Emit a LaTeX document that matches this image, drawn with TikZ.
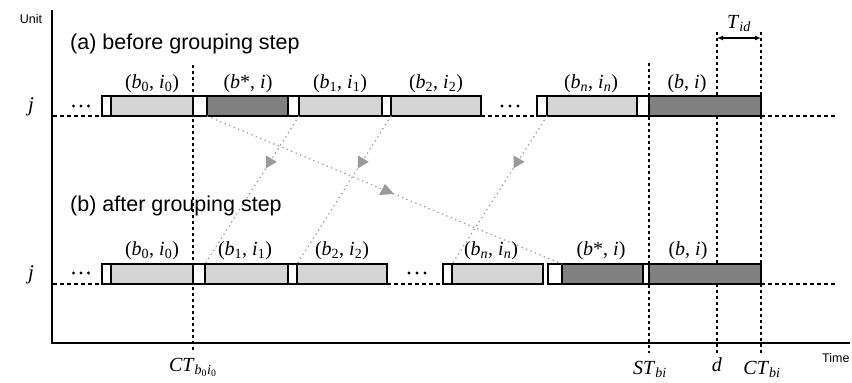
\documentclass[tikz,border=0pt]{standalone}
\usepackage{fontspec}
\setmainfont{Liberation Serif}
\newfontfamily\arialf{Liberation Sans}
\usetikzlibrary{arrows.meta}
\definecolor{lightg}{HTML}{D4D4D4}
\definecolor{darkg}{HTML}{808080}
\definecolor{connc}{HTML}{9A9A9A}
\newcommand\bx[5]{\node[#5,minimum width={(#3-#2)*1pt}] (#1) at (#2,#4) {};}
\newcommand\pr[4]{(\textit{#1}\textsubscript{#2}, \textit{#3}\textsubscript{#4})}
\begin{document}
\begin{tikzpicture}[x=1pt,y=-1pt,
  blk/.style={draw=black,line width=1.3pt,inner sep=0pt,outer sep=0pt,minimum height=20pt,anchor=north west},
  wb/.style={blk,fill=white},
  lb/.style={blk,fill=lightg},
  db/.style={blk,fill=darkg},
  lbl/.style={font=\fontsize{20}{22}\selectfont,anchor=base,inner sep=0pt},
  sanslbl/.style={font=\arialf\fontsize{21.5}{24}\selectfont,anchor=base west,inner sep=0pt},
  axlbl/.style={font=\arialf\fontsize{12.5}{14}\selectfont,anchor=base,inner sep=0pt},
  baseln/.style={line width=1.2pt,dash pattern=on 4pt off 3pt},
  vdot/.style={line width=1.6pt,dash pattern=on 3pt off 3pt},
  axis/.style={line width=1.5pt},
  conn/.style={connc,line width=1.2pt,dash pattern=on 1.3pt off 3.5pt},
  tri/.style={fill=connc,draw=none},
  dotc/.style={fill=black,draw=none}
]
\useasboundingbox (0,0) rectangle (852,383);

% axes
\coordinate (o) at (52,343);
\coordinate (ytop) at (52,10);
\coordinate (xend) at (850,343);
\draw[axis] (ytop) -- (o) -- (xend);
\node[axlbl] (unit) at (31,23) {Unit};
\node[axlbl,anchor=base west] (time) at (822,362) {Time};

% vertical dotted time marks
\coordinate (v1t) at (193,65);  \coordinate (v1b) at (193,353);
\coordinate (v2t) at (649,63);  \coordinate (v2b) at (649,353);
\coordinate (v3t) at (717,32);  \coordinate (v3b) at (717,353);
\coordinate (v4t) at (761,32);  \coordinate (v4b) at (761,353);
\draw[vdot] (v1t) -- (v1b);
\draw[vdot] (v2t) -- (v2b);
\draw[vdot] (v3t) -- (v3b);
\draw[vdot] (v4t) -- (v4b);

% T_id arrow
\coordinate (ta) at (717,38);
\coordinate (tb) at (761,38);
\draw[line width=1.6pt,{Latex[length=6pt,width=5pt]}-{Latex[length=6pt,width=5pt]}] (ta) -- (tb);
\node[lbl] (tid) at (739,28) {\textit{T}\textsubscript{\textit{id}}};

% bottom labels
\node[lbl] (ct0) at (193,371) {\textit{CT}\textsubscript{\textit{b}\textsubscript{0}\textit{i}\textsubscript{0}}};
\node[lbl] (st) at (650,374) {\textit{ST}\textsubscript{\textit{bi}}};
\node[lbl] (dl) at (717,371) {\textit{d}};
\node[lbl] (ctb) at (762,374) {\textit{CT}\textsubscript{\textit{bi}}};

% section titles
\node[sanslbl] (ta1) at (70,49) {(a) before grouping step};
\node[sanslbl] (tb1) at (70,211) {(b) after grouping step};

% j labels
\node[lbl,font=\fontsize{21}{24}\selectfont] (j1) at (31,111) {\textit{j}};
\node[lbl,font=\fontsize{21}{24}\selectfont] (j2) at (31,279) {\textit{j}};

% baselines (dashed)
\coordinate (a0) at (53,116);  \coordinate (a1) at (102,116);
\coordinate (a2) at (481,116); \coordinate (a3) at (537,116);
\coordinate (a4) at (761,116); \coordinate (a5) at (837,116);
\draw[baseln] (a0) -- (a1);
\draw[baseln] (a2) -- (a3);
\draw[baseln] (a4) -- (a5);
\coordinate (c0) at (53,284);  \coordinate (c1) at (102,284);
\coordinate (c2) at (387,284); \coordinate (c3) at (443,284);
\coordinate (c4) at (761,284); \coordinate (c5) at (837,284);
\draw[baseln] (c0) -- (c1);
\draw[baseln] (c2) -- (c3);
\draw[baseln] (c4) -- (c5);

% dots
\foreach \x in {73.5,81,88.5,502,510,518} \fill[dotc] (\x,106) circle (1.6);
\foreach \x in {73.5,81,88.5,409,417,425} \fill[dotc] (\x,273) circle (1.6);

% top row blocks
\bx{tw0}{102}{111}{96}{wb}
\bx{tl0}{111}{193}{96}{lb}
\bx{tw1}{193}{207}{96}{wb}
\bx{td1}{207}{288}{96}{db}
\bx{tw2}{288}{299}{96}{wb}
\bx{tl2}{299}{382}{96}{lb}
\bx{tw3}{382}{391}{96}{wb}
\bx{tl3}{391}{481}{96}{lb}
\bx{tw4}{537}{547}{96}{wb}
\bx{tl4}{547}{637}{96}{lb}
\bx{tw5}{637}{649}{96}{wb}
\bx{td5}{649}{761}{96}{db}

% bottom row blocks
\bx{bw0}{102}{111}{264}{wb}
\bx{bl0}{111}{193}{264}{lb}
\bx{bw1}{193}{205}{264}{wb}
\bx{bl1}{205}{288}{264}{lb}
\bx{bw2}{288}{297}{264}{wb}
\bx{bl2}{297}{387}{264}{lb}
\bx{bw3}{443}{452}{264}{wb}
\bx{bl3}{452}{543}{264}{lb}
\bx{bw4}{548}{562}{264}{wb}
\bx{bd4}{562}{643}{264}{db}
\bx{bw5}{643}{649}{264}{wb}
\bx{bd5}{649}{761}{264}{db}

% top labels
\node[lbl] (lt0) at (152,88) {\pr{b}{0}{i}{0}};
\node[lbl] (lt1) at (248,88) {(\textit{b}*, \textit{i})};
\node[lbl] (lt2) at (340,88) {\pr{b}{1}{i}{1}};
\node[lbl] (lt3) at (436,88) {\pr{b}{2}{i}{2}};
\node[lbl] (lt4) at (591,88) {\pr{b}{\textit{n}}{i}{\textit{n}}};
\node[lbl] (lt5) at (687,88) {(\textit{b}, \textit{i})};

% bottom labels
\node[lbl] (lb0) at (152,255) {\pr{b}{0}{i}{0}};
\node[lbl] (lb1) at (245,255) {\pr{b}{1}{i}{1}};
\node[lbl] (lb2) at (342,255) {\pr{b}{2}{i}{2}};
\node[lbl] (lb3) at (491,255) {\pr{b}{\textit{n}}{i}{\textit{n}}};
\node[lbl] (lb4) at (601,255) {(\textit{b}*, \textit{i})};
\node[lbl] (lb5) at (688,255) {(\textit{b}, \textit{i})};

% connectors
\draw[conn] (td1.south west) -- coordinate[pos=0.5] (m1) (bd4.north west);
\draw[conn] (tl2.south west) -- coordinate[pos=0.31] (m2) (bl1.north west);
\draw[conn] (tl3.south west) -- coordinate[pos=0.31] (m3) (bl2.north west);
\draw[conn] (tl4.south west) -- coordinate[pos=0.31] (m4) (bl3.north west);
\fill[tri] (m1) ++(0.5,-6) -- ++(-6,11) -- ++(15,-1) -- cycle;
\foreach \m in {m2,m3,m4}
  \fill[tri] (\m) ++(-4,-6.5) -- ++(0,13) -- ++(11,-6.5) -- cycle;
\end{tikzpicture}
\end{document}
